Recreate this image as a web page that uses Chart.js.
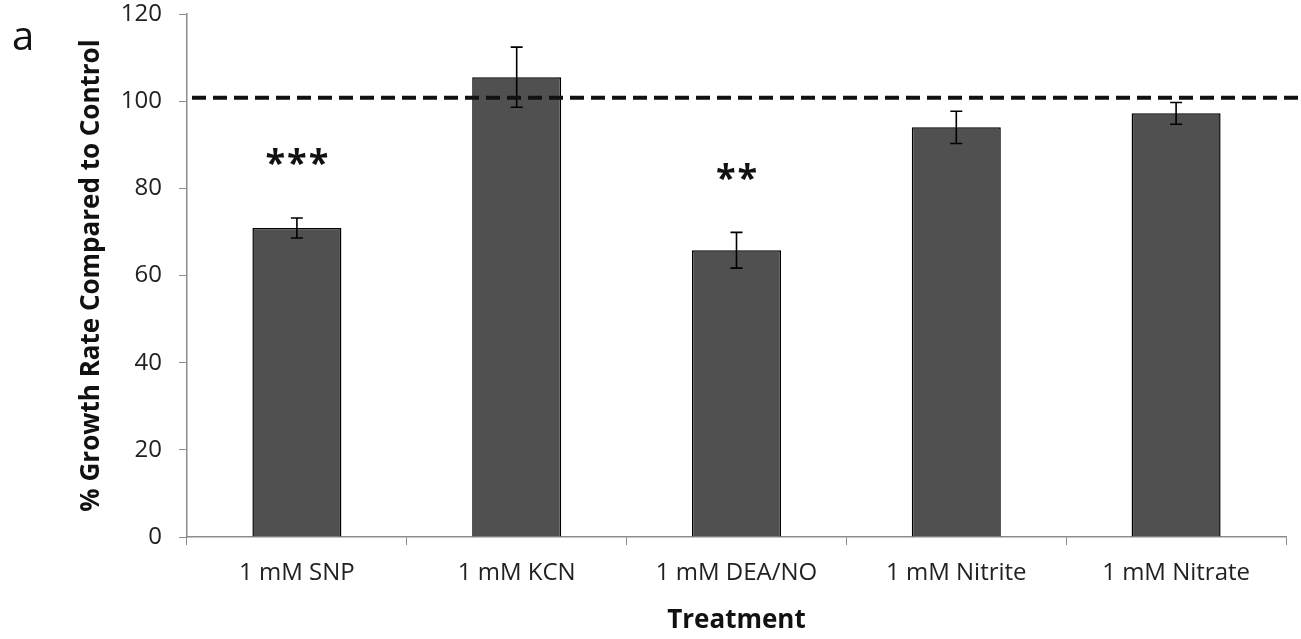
<!DOCTYPE html>
<html>
<head>
<meta charset="utf-8">
<script src="https://cdn.jsdelivr.net/npm/chart.js@4"></script>
<style>
  html, body { margin: 0; padding: 0; background: #fff; }
  #wrap { width: 1301px; height: 639px; position: relative; }
</style>
</head>
<body>
<div id="wrap"><canvas id="myChart" width="1301" height="639"></canvas></div>
<script>
const categorias = ["1 mM SNP", "1 mM KCN", "1 mM DEA/NO", "1 mM Nitrite", "1 mM Nitrate"];
const crecimiento = [70.9, 105.5, 65.8, 94.0, 97.2];
const errores = [2.3, 6.9, 4.1, 3.7, 2.5];
const significancia = ["***", "", "**", "", ""];
const nivelControl = 100.8;
const yTicks = [0, 20, 40, 60, 80, 100, 120];

const fuente = "'Open Sans', sans-serif";

// error bars, control line, asterisks and panel letter
const extras = {
  id: "extras",
  afterDatasetsDraw(chart) {
    const ctx = chart.ctx;
    const x = chart.scales.x;
    const y = chart.scales.y;
    ctx.save();

    ctx.strokeStyle = "#000";
    ctx.lineWidth = 1.6;
    crecimiento.forEach((v, i) => {
      const cx = x.getPixelForValue(i);
      const top = y.getPixelForValue(v + errores[i]);
      const bot = y.getPixelForValue(v - errores[i]);
      ctx.beginPath();
      ctx.moveTo(cx, top);
      ctx.lineTo(cx, bot);
      ctx.moveTo(cx - 6, top);
      ctx.lineTo(cx + 6, top);
      ctx.moveTo(cx - 6, bot);
      ctx.lineTo(cx + 6, bot);
      ctx.stroke();
    });

    const yc = y.getPixelForValue(nivelControl);
    ctx.strokeStyle = "#111";
    ctx.lineWidth = 4;
    ctx.setLineDash([14, 7]);
    ctx.beginPath();
    ctx.moveTo(x.left + 5, yc);
    ctx.lineTo(chart.width, yc);
    ctx.stroke();
    ctx.setLineDash([]);

    ctx.fillStyle = "#111";
    ctx.font = "bold 36px " + fuente;
    ctx.letterSpacing = "2px";
    ctx.textAlign = "center";
    ctx.textBaseline = "middle";
    significancia.forEach((s, i) => {
      if (!s) return;
      const cx = x.getPixelForValue(i) + 1;
      const sy = y.getPixelForValue(crecimiento[i] + errores[i] + 14) + 8;
      ctx.fillText(s, cx, sy);
    });
    ctx.letterSpacing = "0px";

    ctx.font = "40px " + fuente;
    ctx.textAlign = "left";
    ctx.textBaseline = "alphabetic";
    ctx.fillText("a", 12, 50);
    ctx.restore();
  }
};

const ctx = document.getElementById("myChart").getContext("2d");
const myChart = new Chart(ctx, {
  type: "bar",
  data: {
    labels: categorias,
    datasets: [
      {
        label: "% Growth Rate",
        data: crecimiento,
        backgroundColor: "#505050",
        borderColor: "#000",
        borderWidth: 1.5,
        categoryPercentage: 1,
        barPercentage: 0.405,
      },
    ],
  },
  options: {
    responsive: false,
    animation: false,
    layout: { padding: { top: 14, right: 15, left: 0, bottom: 0 } },
    plugins: { legend: { display: false }, tooltip: { enabled: false } },
    scales: {
      x: {
        grid: { drawOnChartArea: false, color: "#8c8c8c", tickLength: 8, offset: true },
        border: { color: "#8c8c8c", width: 1.5 },
        ticks: { color: "#222", font: { family: fuente, size: 24 }, padding: 14, maxRotation: 0 },
        title: {
          display: true,
          text: "Treatment",
          color: "#111",
          font: { family: fuente, size: 26, weight: "bold" },
          padding: { top: 0, bottom: 3 },
        },
        afterFit(scale) {
          scale.height = 102;
          scale.paddingLeft = 0;
          scale.paddingRight = 0;
        },
      },
      y: {
        min: 0,
        max: 120,
        afterBuildTicks(scale) { scale.ticks = yTicks.map((v) => ({ value: v })); },
        grid: { drawOnChartArea: false, color: "#8c8c8c", tickLength: 8 },
        border: { color: "#8c8c8c", width: 1.5 },
        ticks: { color: "#222", font: { family: fuente, size: 24 }, padding: 17 },
        title: {
          display: true,
          text: "% Growth Rate Compared to Control",
          color: "#111",
          font: { family: fuente, size: 26, weight: "bold" },
          padding: { top: 76, bottom: 0 },
        },
        afterFit(scale) {
          scale.width = 187;
          scale.paddingTop = 0;
          scale.paddingBottom = 0;
        },
      },
    },
  },
  plugins: [extras],
});
</script>
</body>
</html>
